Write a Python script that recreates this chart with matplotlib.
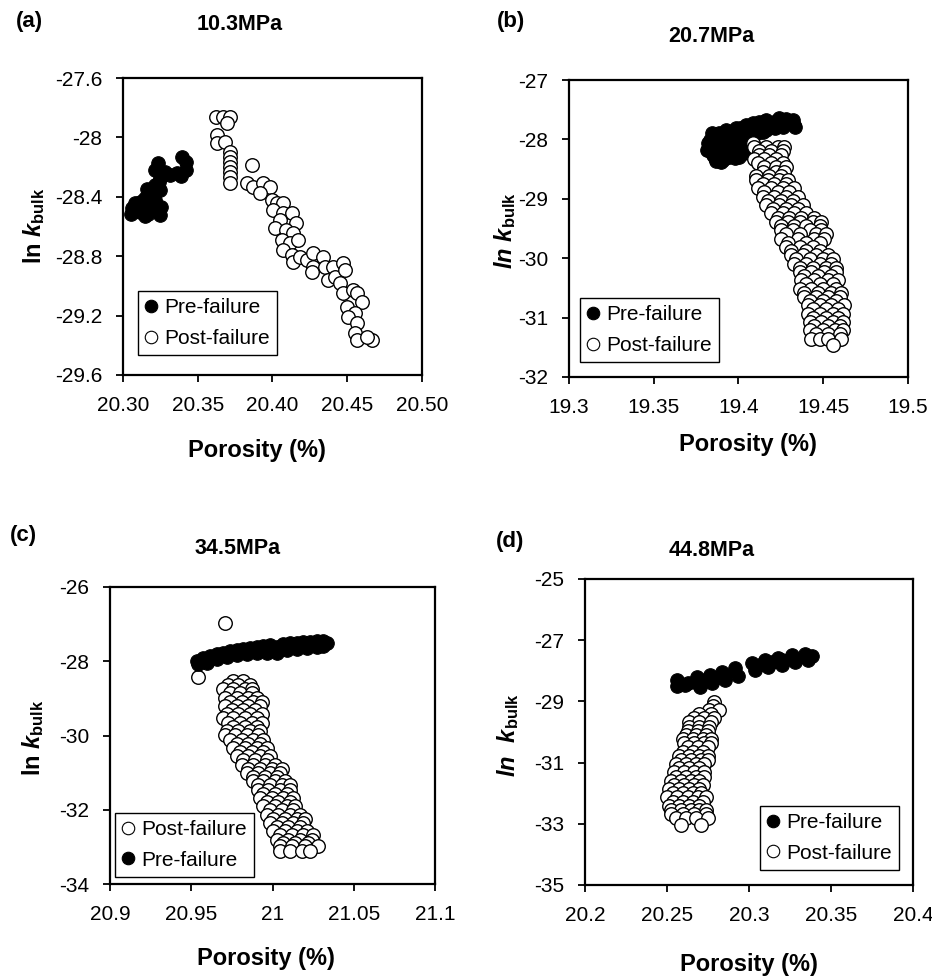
import matplotlib
matplotlib.use('Agg')
import matplotlib.pyplot as plt
from matplotlib.lines import Line2D

plt.rcParams['font.family'] = ['Liberation Sans', 'DejaVu Sans']
plt.rcParams['mathtext.fontset'] = 'custom'
plt.rcParams['mathtext.rm'] = 'Liberation Sans:bold'
plt.rcParams['mathtext.it'] = 'Liberation Sans:italic:bold'
plt.rcParams['mathtext.bf'] = 'Liberation Sans:bold'
plt.rcParams['axes.unicode_minus'] = False

# ---------------- data (porosity %, ln k_bulk) ----------------
a_pre = [(20.3234, -28.172), (20.3395, -28.132), (20.3421, -28.220), (20.3388, -28.260),
         (20.3421, -28.166), (20.3314, -28.253), (20.3281, -28.233), (20.3214, -28.220),
         (20.3247, -28.273), (20.3214, -28.321), (20.3247, -28.354), (20.3181, -28.368),
         (20.3147, -28.408), (20.3214, -28.422), (20.3100, -28.442), (20.3060, -28.475),
         (20.3054, -28.516), (20.3114, -28.502), (20.3167, -28.516), (20.3214, -28.489),
         (20.3247, -28.522), (20.3147, -28.529), (20.3254, -28.469), (20.3181, -28.469),
         (20.3114, -28.462), (20.3080, -28.440), (20.3130, -28.430), (20.3200, -28.460),
         (20.3160, -28.350), (20.3210, -28.390), (20.3240, -28.300), (20.3360, -28.240)]
a_post = [(20.3622, -27.860), (20.3667, -27.860), (20.3716, -27.860), (20.3693, -27.900),
          (20.3627, -27.984), (20.3627, -28.040), (20.3682, -28.029), (20.3716, -28.096),
          (20.3716, -28.130), (20.3716, -28.163), (20.3716, -28.197), (20.3716, -28.231),
          (20.3716, -28.264), (20.3716, -28.305), (20.3865, -28.186), (20.3827, -28.309),
          (20.3870, -28.332), (20.3939, -28.305), (20.3983, -28.332), (20.3916, -28.377),
          (20.3994, -28.422), (20.4028, -28.444), (20.4072, -28.444), (20.4005, -28.489),
          (20.4072, -28.511), (20.4128, -28.511), (20.4050, -28.556), (20.4160, -28.579),
          (20.4016, -28.612), (20.4090, -28.624), (20.4140, -28.646), (20.4061, -28.691),
          (20.4117, -28.713), (20.4173, -28.691), (20.4072, -28.758), (20.4128, -28.792),
          (20.4140, -28.837), (20.4184, -28.803), (20.4229, -28.826), (20.4274, -28.781),
          (20.4274, -28.870), (20.4262, -28.904), (20.4339, -28.803), (20.4350, -28.870),
          (20.4407, -28.870), (20.4373, -28.960), (20.4418, -28.937), (20.4474, -28.848),
          (20.4485, -28.893), (20.4452, -28.983), (20.4474, -29.050), (20.4541, -29.028),
          (20.4563, -29.050), (20.4597, -29.106), (20.4497, -29.140), (20.4552, -29.185),
          (20.4508, -29.207), (20.4563, -29.252), (20.4552, -29.319), (20.4563, -29.364),
          (20.4663, -29.364), (20.4630, -29.342)]

b_pre = [(19.3812, -28.180), (19.3837, -28.067), (19.3847, -28.264), (19.3897, -28.376),
         (19.3906, -28.264), (19.3887, -28.039), (19.3926, -27.955), (19.3966, -27.899),
         (19.3946, -28.152), (19.3985, -28.264), (19.4034, -28.236), (19.4005, -28.067),
         (19.4025, -27.871), (19.4064, -27.843), (19.4064, -28.039), (19.4103, -27.787),
         (19.4143, -27.775), (19.4182, -27.742), (19.4222, -27.685), (19.4261, -27.685),
         (19.4300, -27.702), (19.4330, -27.758), (19.4202, -27.787), (19.4163, -27.843),
         (19.4103, -27.899), (19.4261, -27.787), (19.4044, -28.124), (19.3877, -28.152),
         (19.3946, -28.292), (19.3985, -27.955), (19.3926, -28.124),
         (19.3887, -27.899), (19.3847, -27.983), (19.3818, -28.067), (19.3926, -27.843),
         (19.3985, -27.815), (19.4044, -27.758), (19.4084, -27.730), (19.4123, -27.702),
         (19.4163, -27.674), (19.4241, -27.646), (19.4281, -27.663), (19.4320, -27.674),
         (19.4143, -27.871), (19.4084, -27.955), (19.4025, -28.011), (19.3985, -28.152),
         (19.4005, -28.292), (19.3906, -28.348), (19.3867, -28.292), (19.3966, -28.264),
         (19.4009, -27.808), (19.4080, -27.758), (19.4156, -27.690), (19.4233, -27.690),
         (19.4304, -27.724), (19.4333, -27.791), (19.4127, -27.875), (19.4215, -27.808),
         (19.4038, -27.909), (19.3832, -28.010), (19.3820, -28.178), (19.3861, -28.313),
         (19.3920, -28.313), (19.3979, -28.313), (19.4038, -28.212), (19.3891, -28.094),
         (19.3950, -28.010), (19.4009, -28.061), (19.3920, -27.892), (19.3979, -27.842),
         (19.3844, -27.892), (19.3867, -28.364)]
b_post = [(19.4084, -28.067),
          (19.4094, -28.124), (19.4163, -28.124), (19.4232, -28.124), (19.4271, -28.124),
          (19.4123, -28.191), (19.4192, -28.191), (19.4261, -28.191),
          (19.4123, -28.264), (19.4182, -28.264), (19.4251, -28.264),
          (19.4094, -28.331), (19.4153, -28.331), (19.4222, -28.331),
          (19.4113, -28.404), (19.4192, -28.404), (19.4261, -28.404),
          (19.4153, -28.472), (19.4222, -28.472), (19.4281, -28.472),
          (19.4143, -28.545), (19.4222, -28.545), (19.4271, -28.545),
          (19.4103, -28.612), (19.4182, -28.612), (19.4251, -28.612),
          (19.4103, -28.685), (19.4173, -28.685), (19.4241, -28.685), (19.4291, -28.685),
          (19.4143, -28.753), (19.4212, -28.753), (19.4281, -28.753),
          (19.4113, -28.826), (19.4192, -28.826), (19.4261, -28.826), (19.4330, -28.826),
          (19.4153, -28.893), (19.4232, -28.893), (19.4300, -28.893),
          (19.4143, -28.966), (19.4212, -28.966), (19.4281, -28.966), (19.4350, -28.966),
          (19.4173, -29.034), (19.4251, -29.034), (19.4320, -29.034),
          (19.4163, -29.107), (19.4241, -29.107), (19.4310, -29.107), (19.4379, -29.107),
          (19.4202, -29.174), (19.4281, -29.174), (19.4350, -29.174),
          (19.4192, -29.247), (19.4261, -29.247), (19.4330, -29.247), (19.4399, -29.247),
          (19.4232, -29.315), (19.4300, -29.315), (19.4369, -29.315), (19.4448, -29.315),
          (19.4222, -29.388), (19.4291, -29.388), (19.4360, -29.388), (19.4438, -29.388), (19.4488, -29.388),
          (19.4251, -29.455), (19.4330, -29.455), (19.4399, -29.455), (19.4478, -29.455),
          (19.4251, -29.528), (19.4320, -29.528), (19.4419, -29.528), (19.4488, -29.528),
          (19.4281, -29.596), (19.4360, -29.596), (19.4458, -29.596), (19.4517, -29.596),
          (19.4251, -29.669), (19.4350, -29.669), (19.4448, -29.669), (19.4507, -29.669),
          (19.4290, -29.736), (19.4399, -29.736), (19.4478, -29.736),
          (19.4281, -29.809), (19.4360, -29.809), (19.4438, -29.809),
          (19.4310, -29.876), (19.4399, -29.876), (19.4478, -29.876),
          (19.4310, -29.949), (19.4379, -29.949), (19.4458, -29.949), (19.4527, -29.949),
          (19.4340, -30.017), (19.4419, -30.017), (19.4498, -30.017), (19.4557, -30.017),
          (19.4330, -30.090), (19.4399, -30.090), (19.4478, -30.090), (19.4547, -30.090),
          (19.4360, -30.157), (19.4438, -30.157), (19.4517, -30.157), (19.4576, -30.157),
          (19.4360, -30.230), (19.4429, -30.230), (19.4507, -30.230), (19.4576, -30.230),
          (19.4389, -30.298), (19.4468, -30.298), (19.4547, -30.298),
          (19.4369, -30.371), (19.4448, -30.371), (19.4527, -30.371), (19.4586, -30.371),
          (19.4399, -30.438), (19.4478, -30.438), (19.4557, -30.438),
          (19.4360, -30.511), (19.4429, -30.511), (19.4498, -30.511), (19.4576, -30.511),
          (19.4389, -30.579), (19.4468, -30.579), (19.4547, -30.579), (19.4606, -30.579),
          (19.4389, -30.652), (19.4458, -30.652), (19.4527, -30.652), (19.4596, -30.652),
          (19.4419, -30.719), (19.4498, -30.719), (19.4576, -30.719),
          (19.4409, -30.792), (19.4478, -30.792), (19.4547, -30.792), (19.4625, -30.792),
          (19.4438, -30.860), (19.4517, -30.860), (19.4586, -30.860),
          (19.4409, -30.933), (19.4478, -30.933), (19.4557, -30.933), (19.4616, -30.933),
          (19.4438, -31.000), (19.4517, -31.000), (19.4586, -31.000),
          (19.4419, -31.073), (19.4488, -31.073), (19.4557, -31.073), (19.4616, -31.073),
          (19.4448, -31.140), (19.4527, -31.140), (19.4596, -31.140),
          (19.4419, -31.213), (19.4498, -31.213), (19.4567, -31.213), (19.4616, -31.213),
          (19.4458, -31.281), (19.4527, -31.281), (19.4596, -31.281),
          (19.4429, -31.354), (19.4478, -31.354), (19.4527, -31.354), (19.4606, -31.354),
          (19.4557, -31.466)]

c_pre = [(20.9533, -27.996), (20.9574, -27.924), (20.9615, -27.861), (20.9656, -27.816),
         (20.9697, -27.771), (20.9738, -27.726), (20.9779, -27.708), (20.9821, -27.681),
         (20.9862, -27.636), (20.9903, -27.618), (20.9944, -27.600), (20.9985, -27.573),
         (21.0026, -27.618), (21.0067, -27.528), (21.0108, -27.510), (21.0149, -27.501),
         (21.0190, -27.474), (21.0231, -27.474), (21.0272, -27.456), (21.0313, -27.456),
         (21.0333, -27.510),
         (20.9544, -28.085), (20.9595, -28.040), (20.9656, -27.951), (20.9718, -27.879),
         (20.9779, -27.834), (20.9841, -27.816), (20.9903, -27.789), (20.9964, -27.789),
         (21.0026, -27.771), (21.0087, -27.699), (21.0149, -27.681), (21.0210, -27.654),
         (21.0272, -27.618), (21.0313, -27.591)]
c_post = [(20.9708, -26.962), (20.9544, -28.427),
          (20.9759, -28.535), (20.9821, -28.535),
          (20.9728, -28.643), (20.9790, -28.643), (20.9862, -28.643),
          (20.9697, -28.760), (20.9759, -28.760), (20.9831, -28.760), (20.9872, -28.760),
          (20.9738, -28.867), (20.9800, -28.867), (20.9872, -28.867),
          (20.9708, -28.984), (20.9779, -28.984), (20.9851, -28.984), (20.9903, -28.984),
          (20.9738, -29.092), (20.9810, -29.092), (20.9882, -29.092), (20.9933, -29.092),
          (20.9708, -29.209), (20.9779, -29.209), (20.9851, -29.209), (20.9923, -29.209),
          (20.9749, -29.317), (20.9821, -29.317), (20.9892, -29.317),
          (20.9718, -29.434), (20.9790, -29.434), (20.9862, -29.434), (20.9933, -29.434),
          (20.9697, -29.542), (20.9759, -29.542), (20.9831, -29.542), (20.9903, -29.542),
          (20.9728, -29.658), (20.9800, -29.658), (20.9872, -29.658), (20.9933, -29.658),
          (20.9759, -29.766), (20.9831, -29.766), (20.9903, -29.766),
          (20.9718, -29.883), (20.9790, -29.883), (20.9862, -29.883), (20.9923, -29.883),
          (20.9708, -29.991), (20.9769, -29.991), (20.9841, -29.991), (20.9913, -29.991),
          (20.9738, -30.108), (20.9810, -30.108), (20.9882, -30.108), (20.9944, -30.108),
          (20.9779, -30.216), (20.9851, -30.216), (20.9923, -30.216),
          (20.9759, -30.333), (20.9831, -30.333), (20.9903, -30.333), (20.9964, -30.333),
          (20.9800, -30.440), (20.9872, -30.440), (20.9944, -30.440),
          (20.9779, -30.557), (20.9851, -30.557), (20.9923, -30.557), (20.9985, -30.557),
          (20.9821, -30.665), (20.9892, -30.665), (20.9964, -30.665),
          (20.9810, -30.782), (20.9882, -30.782), (20.9954, -30.782), (21.0015, -30.782),
          (20.9851, -30.890), (20.9923, -30.890), (20.9995, -30.890), (21.0056, -30.890),
          (20.9841, -31.007), (20.9913, -31.007), (20.9985, -31.007), (21.0046, -31.007),
          (20.9882, -31.115), (20.9954, -31.115), (21.0026, -31.115),
          (20.9882, -31.231), (20.9944, -31.231), (21.0015, -31.231), (21.0077, -31.231),
          (20.9913, -31.339), (20.9985, -31.339), (21.0056, -31.339), (21.0108, -31.339),
          (20.9913, -31.456), (20.9974, -31.456), (21.0046, -31.456), (21.0108, -31.456),
          (20.9944, -31.564), (21.0015, -31.564), (21.0087, -31.564),
          (20.9923, -31.681), (20.9995, -31.681), (21.0067, -31.681), (21.0128, -31.681),
          (20.9964, -31.789), (21.0036, -31.789), (21.0108, -31.789),
          (20.9944, -31.906), (21.0015, -31.906), (21.0087, -31.906), (21.0138, -31.906),
          (20.9985, -32.013), (21.0056, -32.013), (21.0128, -32.013),
          (20.9964, -32.130), (21.0036, -32.130), (21.0108, -32.130), (21.0169, -32.130),
          (21.0005, -32.238), (21.0077, -32.238), (21.0149, -32.238), (21.0200, -32.238),
          (20.9985, -32.355), (21.0056, -32.355), (21.0128, -32.355), (21.0190, -32.355),
          (21.0026, -32.463), (21.0097, -32.463), (21.0169, -32.463),
          (21.0005, -32.580), (21.0077, -32.580), (21.0149, -32.580), (21.0210, -32.580),
          (21.0046, -32.688), (21.0118, -32.688), (21.0190, -32.688), (21.0251, -32.688),
          (21.0026, -32.805), (21.0097, -32.805), (21.0169, -32.805), (21.0241, -32.805),
          (21.0067, -32.894), (21.0138, -32.894), (21.0221, -32.894),
          (21.0046, -32.984), (21.0118, -32.984), (21.0200, -32.984), (21.0282, -32.984),
          (21.0046, -33.119), (21.0108, -33.119), (21.0179, -33.119), (21.0231, -33.119)]

d_pre = [(20.2561, -28.301), (20.2561, -28.497), (20.2628, -28.399), (20.2683, -28.203),
         (20.2701, -28.529), (20.2762, -28.137), (20.2774, -28.399), (20.2835, -28.039),
         (20.2854, -28.301), (20.2915, -27.908), (20.2933, -28.170), (20.3018, -27.745),
         (20.3037, -27.974), (20.3098, -27.647), (20.3116, -27.876), (20.3177, -27.582),
         (20.3201, -27.810), (20.3262, -27.484), (20.3280, -27.712), (20.3341, -27.451),
         (20.3384, -27.516), (20.3360, -27.647), (20.2610, -28.450), (20.2671, -28.350),
         (20.2732, -28.300), (20.2793, -28.250), (20.2854, -28.150), (20.3079, -27.780),
         (20.3140, -27.700), (20.3201, -27.650), (20.3262, -27.600)]
d_post = [(20.2788, -29.009),
          (20.2778, -29.139),
          (20.2758, -29.281), (20.2819, -29.281),
          (20.2697, -29.412), (20.2768, -29.412),
          (20.2666, -29.553), (20.2727, -29.553), (20.2788, -29.553),
          (20.2635, -29.684), (20.2697, -29.684), (20.2768, -29.684),
          (20.2635, -29.826), (20.2697, -29.826), (20.2758, -29.826),
          (20.2625, -29.956), (20.2686, -29.956), (20.2747, -29.956),
          (20.2615, -30.098), (20.2676, -30.098), (20.2737, -30.098),
          (20.2595, -30.229), (20.2656, -30.229), (20.2717, -30.229), (20.2768, -30.229),
          (20.2605, -30.370), (20.2666, -30.370), (20.2727, -30.370), (20.2768, -30.370),
          (20.2625, -30.501), (20.2686, -30.501), (20.2747, -30.501),
          (20.2595, -30.643), (20.2656, -30.643), (20.2717, -30.643),
          (20.2574, -30.773), (20.2635, -30.773), (20.2697, -30.773), (20.2747, -30.773),
          (20.2585, -30.915), (20.2646, -30.915), (20.2707, -30.915), (20.2747, -30.915),
          (20.2554, -31.046), (20.2615, -31.046), (20.2676, -31.046), (20.2727, -31.046),
          (20.2574, -31.187), (20.2635, -31.187), (20.2697, -31.187),
          (20.2544, -31.318), (20.2605, -31.318), (20.2666, -31.318), (20.2727, -31.318),
          (20.2554, -31.460), (20.2615, -31.460), (20.2676, -31.460), (20.2727, -31.460),
          (20.2523, -31.590), (20.2585, -31.590), (20.2646, -31.590), (20.2697, -31.590),
          (20.2544, -31.732), (20.2605, -31.732), (20.2666, -31.732), (20.2717, -31.732),
          (20.2513, -31.863), (20.2574, -31.863), (20.2635, -31.863), (20.2697, -31.863),
          (20.2534, -32.004), (20.2595, -32.004), (20.2656, -32.004), (20.2707, -32.004),
          (20.2503, -32.135), (20.2564, -32.135), (20.2625, -32.135), (20.2686, -32.135), (20.2737, -32.135),
          (20.2534, -32.277), (20.2595, -32.277), (20.2656, -32.277), (20.2717, -32.277),
          (20.2513, -32.407), (20.2574, -32.407), (20.2635, -32.407), (20.2697, -32.407),
          (20.2523, -32.549), (20.2585, -32.549), (20.2646, -32.549), (20.2697, -32.549), (20.2737, -32.549),
          (20.2523, -32.680), (20.2595, -32.680), (20.2666, -32.680), (20.2737, -32.680),
          (20.2554, -32.821), (20.2615, -32.821), (20.2676, -32.821), (20.2747, -32.821),
          (20.2585, -33.039), (20.2707, -33.039)]

a_xticks = [20.30, 20.35, 20.40, 20.45, 20.50]
a_xlabels = ["20.30", "20.35", "20.40", "20.45", "20.50"]
a_yticks = [-27.6, -28.0, -28.4, -28.8, -29.2, -29.6]
a_ylabels = ["-27.6", "-28", "-28.4", "-28.8", "-29.2", "-29.6"]
b_xticks = [19.3, 19.35, 19.4, 19.45, 19.5]
b_xlabels = ["19.3", "19.35", "19.4", "19.45", "19.5"]
b_yticks = [-27, -28, -29, -30, -31, -32]
b_ylabels = ["-27", "-28", "-29", "-30", "-31", "-32"]
c_xticks = [20.9, 20.95, 21.0, 21.05, 21.1]
c_xlabels = ["20.9", "20.95", "21", "21.05", "21.1"]
c_yticks = [-26, -28, -30, -32, -34]
c_ylabels = ["-26", "-28", "-30", "-32", "-34"]
d_xticks = [20.2, 20.25, 20.3, 20.35, 20.4]
d_xlabels = ["20.2", "20.25", "20.3", "20.35", "20.4"]
d_yticks = [-25, -27, -29, -31, -33, -35]
d_ylabels = ["-25", "-27", "-29", "-31", "-33", "-35"]

titles = ["10.3MPa", "20.7MPa", "34.5MPa", "44.8MPa"]
letters = ["(a)", "(b)", "(c)", "(d)"]
labels = ["Pre-failure", "Post-failure"]

# ---------------- layout ----------------
W, H = 932, 976
fig = plt.figure(figsize=(W / 100, H / 100), dpi=100)


def fx(px):
    return px / W


def fy(py):
    return 1 - py / H


panels = [
    dict(box=(123, 78, 422, 375), pre=a_pre, post=a_post, xt=a_xticks, xl=a_xlabels,
         yt=a_yticks, yl=a_ylabels, ylab=r'ln $\mathit{k}_{\mathbf{bulk}}$', pre_first=True,
         leg=('lower left', (0.05, 0.067)), title=(240, 25), letter=(29, 22),
         ylabpos=(34, 226), xlabpos=(257, 450)),
    dict(box=(569, 80, 908, 377), pre=b_pre, post=b_post, xt=b_xticks, xl=b_xlabels,
         yt=b_yticks, yl=b_ylabels, ylab=r'$\mathit{ln}\ \mathit{k}_{\mathbf{bulk}}$', pre_first=True,
         leg=('lower left', (0.032, 0.05)), title=(711, 37), letter=(511, 22),
         ylabpos=(505, 230), xlabpos=(748, 445)),
    dict(box=(110, 587, 435, 884), pre=c_pre, post=c_post, xt=c_xticks, xl=c_xlabels,
         yt=c_yticks, yl=c_ylabels, ylab=r'ln $\mathit{k}_{\mathbf{bulk}}$', pre_first=False,
         leg=('lower left', (0.015, 0.024)), title=(238, 548), letter=(23, 535),
         ylabpos=(33, 738), xlabpos=(266, 958)),
    dict(box=(585, 579, 913, 885), pre=d_pre, post=d_post, xt=d_xticks, xl=d_xlabels,
         yt=d_yticks, yl=d_ylabels, ylab=r'$\mathit{ln}\ \ \mathit{k}_{\mathbf{bulk}}$', pre_first=True,
         leg=('lower right', (0.957, 0.049)), title=(712, 550), letter=(510, 541),
         ylabpos=(508, 735), xlabpos=(749, 964)),
]

MS = 95
for i, p in enumerate(panels):
    l, t, r, b = p['box']
    ax = fig.add_axes([fx(l), fy(b), (r - l) / W, (b - t) / H])
    px, py = zip(*p['pre'])
    qx, qy = zip(*p['post'])

    def draw_pre(z):
        ax.scatter(px, py, s=MS, c='black', edgecolors='black', linewidths=0.8, zorder=z)

    def draw_post(z):
        ax.scatter(qx, qy, s=MS, c='white', edgecolors='black', linewidths=1.0, zorder=z)

    if p['pre_first']:
        draw_pre(2)
        draw_post(3)
    else:
        draw_post(2)
        draw_pre(3)

    ax.set_xlim(p['xt'][0], p['xt'][-1])
    ax.set_ylim(p['yt'][-1], p['yt'][0])
    ax.set_xticks(p['xt'])
    ax.set_xticklabels(p['xl'])
    ax.set_yticks(p['yt'])
    ax.set_yticklabels(p['yl'])
    ax.tick_params(direction='out', length=5, width=1.3, labelsize=15,
                   top=False, right=False)
    ax.tick_params(axis='y', pad=10)
    ax.tick_params(axis='x', pad=10)
    for s in ax.spines.values():
        s.set_linewidth(1.6)

    h_pre = Line2D([], [], marker='o', linestyle='none', markersize=9,
                   markerfacecolor='black', markeredgecolor='black', markeredgewidth=0.8)
    h_post = Line2D([], [], marker='o', linestyle='none', markersize=9,
                    markerfacecolor='white', markeredgecolor='black', markeredgewidth=0.8)
    if p['pre_first']:
        hs, ls = [h_pre, h_post], labels
    else:
        hs, ls = [h_post, h_pre], [labels[1], labels[0]]
    loc, anchor = p['leg']
    leg = ax.legend(hs, ls, loc=loc, bbox_to_anchor=anchor, fontsize=15,
                    frameon=True, fancybox=False, framealpha=1, edgecolor='black',
                    borderpad=0.35, labelspacing=0.55, handlelength=0.6,
                    handletextpad=0.3, borderaxespad=0)
    leg.get_frame().set_linewidth(1.0)

    fig.text(fx(p['title'][0]), fy(p['title'][1]), titles[i], ha='center', va='center',
             fontsize=15.5, fontweight='bold')
    fig.text(fx(p['letter'][0]), fy(p['letter'][1]), letters[i], ha='center', va='center',
             fontsize=16, fontweight='bold')
    fig.text(fx(p['ylabpos'][0]), fy(p['ylabpos'][1]), p['ylab'], ha='center', va='center',
             rotation=90, fontsize=17, fontweight='bold')
    fig.text(fx(p['xlabpos'][0]), fy(p['xlabpos'][1]), 'Porosity (%)', ha='center', va='center',
             fontsize=17, fontweight='bold')

fig.savefig('out.png', dpi=100)
